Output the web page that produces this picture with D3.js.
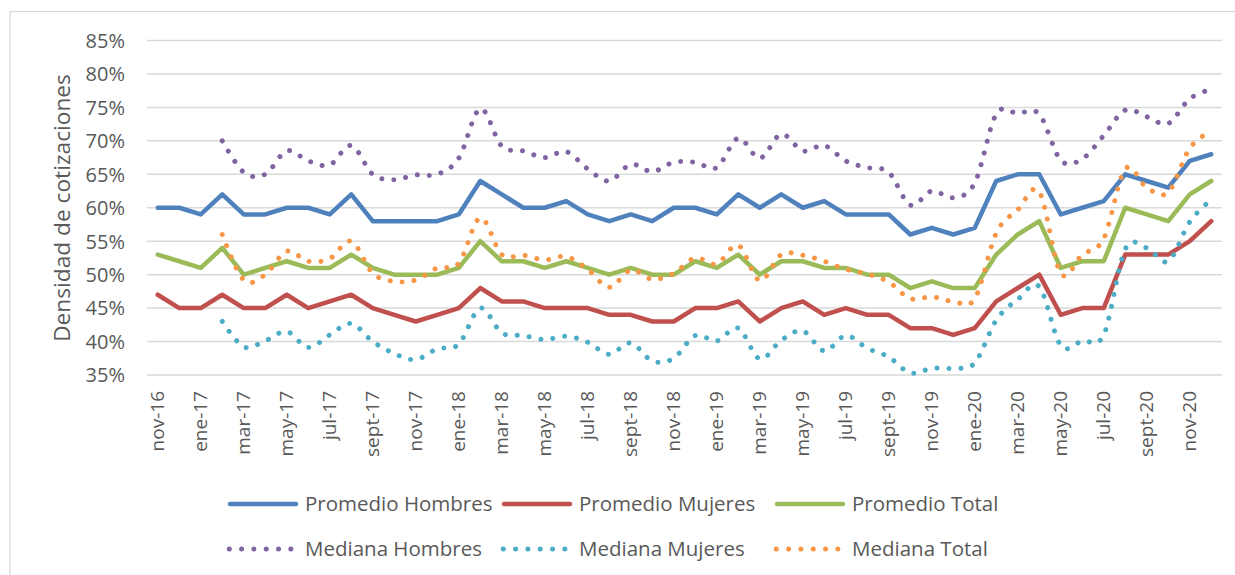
<!DOCTYPE html>
<html>
<head>
<meta charset="utf-8">
<script src="https://cdn.jsdelivr.net/npm/d3@7"></script>
<style>
  html, body { margin: 0; padding: 0; background: #fff; }
  svg { display: block; }
  text { font-family: "Open Sans", sans-serif; fill: #595959; }
</style>
</head>
<body>
<svg id="chart" width="1235" height="575"></svg>
<script>
// ---- Data ----
const months = [
  "nov-16","dic-16",
  "ene-17","feb-17","mar-17","abr-17","may-17","jun-17","jul-17","ago-17","sept-17","oct-17","nov-17","dic-17",
  "ene-18","feb-18","mar-18","abr-18","may-18","jun-18","jul-18","ago-18","sept-18","oct-18","nov-18","dic-18",
  "ene-19","feb-19","mar-19","abr-19","may-19","jun-19","jul-19","ago-19","sept-19","oct-19","nov-19","dic-19",
  "ene-20","feb-20","mar-20","abr-20","may-20","jun-20","jul-20","ago-20","sept-20","oct-20","nov-20","dic-20"
];
const yTicks = [0.35,0.40,0.45,0.50,0.55,0.60,0.65,0.70,0.75,0.80,0.85];

const promedioHombres = [60,60,59,62,59,59,60,60,59,62,58,58,58,58,59,64,62,60,60,61,59,58,59,58,60,60,59,62,60,62,60,61,59,59,59,56,57,56,57,64,65,65,59,60,61,65,64,63,67,68];
const promedioMujeres = [47,45,45,47,45,45,47,45,46,47,45,44,43,44,45,48,46,46,45,45,45,44,44,43,43,45,45,46,43,45,46,44,45,44,44,42,42,41,42,46,48,50,44,45,45,53,53,53,55,58];
const promedioTotal   = [53,52,51,54,50,51,52,51,51,53,51,50,50,50,51,55,52,52,51,52,51,50,51,50,50,52,51,53,50,52,52,51,51,50,50,48,49,48,48,53,56,58,51,52,52,60,59,58,62,64];
const medianaHombres  = [null,null,null,70,65.3,65,68.5,67,66.4,69.3,65,64.2,64.9,65,67.4,74.8,69.2,68.5,67.5,68.4,65.8,64,66.5,65.4,66.8,66.8,66,70.4,67.4,71,68.5,69.3,67,66,65.3,60.4,62.5,61.5,63.7,74,74.1,74,67.1,67.3,70.8,74.6,73.6,72.6,76.3,77.7];
const medianaMujeres  = [null,null,null,43,39.2,40.1,41.5,39.1,41,42.7,40,38.2,37.3,38.9,39.6,45,41.3,40.9,40.3,40.8,39.9,38.1,39.8,37.1,37.5,40.9,40.1,42,37.4,40.2,41.6,38.6,40.9,39,37.7,35.3,36,36,36.8,43.2,46.3,48.2,39.4,40.1,41,53.8,54,52,57.9,61.2];
const medianaTotal    = [null,null,null,56,49.2,50,53.5,52,52.4,55,50.2,49,49.2,51,51.7,58.5,53,52.9,52.2,52.7,50.8,48.1,50.7,49.3,50.2,52.5,51.6,54.4,49.1,53,52.9,52,50.8,50.1,48.9,46.4,46.7,46,46.4,56.2,59.7,62.4,50.2,53,55.4,65.8,63,62.3,68.9,71.5];

const seriesNames = ["Promedio Hombres","Promedio Mujeres","Promedio Total","Mediana Hombres","Mediana Mujeres","Mediana Total"];
const seriesValues = [promedioHombres, promedioMujeres, promedioTotal, medianaHombres, medianaMujeres, medianaTotal];
const seriesColors = ["#4F81BD","#C0504D","#9BBB59","#8064A2","#4BACC6","#F79646"];
const seriesDotted = [false,false,false,true,true,true];

// ---- Layout ----
const svg = d3.select("#chart");

// outer frame (only top & left visible)
svg.append("rect")
  .attr("x", 10).attr("y", 11.5)
  .attr("width", 1300).attr("height", 700)
  .attr("fill", "none").attr("stroke", "#d9d9d9").attr("stroke-width", 1.3);

const x = d3.scaleBand().domain(months).range([147, 1222]);
const xc = d => x(d) + x.bandwidth() / 2;
const y = d3.scaleLinear().domain([0.35, 0.85]).range([375, 40.5]);

// gridlines
svg.append("g")
  .selectAll("line").data(yTicks).join("line")
  .attr("x1", 147).attr("x2", 1222)
  .attr("y1", d => y(d)).attr("y2", d => y(d))
  .attr("stroke", "#d9d9d9").attr("stroke-width", 1.5);

// y axis labels
const yAxis = d3.axisLeft(y).tickValues(yTicks).tickFormat(d3.format(".0%")).tickSize(0).tickPadding(0);
const gy = svg.append("g").attr("transform", "translate(125,0)").call(yAxis);
gy.select(".domain").remove();
gy.selectAll("text").style("font-size", "20px").attr("fill", "#595959").attr("dy", "0.34em")
  .style("font-family", "'Open Sans', sans-serif");

// x axis labels
const xAxis = d3.axisBottom(x).tickValues(months.filter((m, i) => i % 2 === 0)).tickSize(0).tickPadding(0);
const gx = svg.append("g").attr("transform", "translate(0,375)").call(xAxis);
gx.select(".domain").remove();
gx.selectAll("text")
  .style("font-size", "19px").attr("fill", "#595959")
  .style("font-family", "'Open Sans', sans-serif")
  .attr("text-anchor", "end")
  .attr("transform", "translate(0,16) rotate(-90)")
  .attr("x", 0).attr("y", 0).attr("dy", "0.35em");

// axis title
svg.append("text")
  .attr("transform", "translate(62,208) rotate(-90)")
  .attr("text-anchor", "middle")
  .attr("dy", "0.35em")
  .style("font-size", "22.7px")
  .text("Densidad de cotizaciones");

// lines
const linear = d3.line()
  .defined(d => d.v != null)
  .x(d => xc(d.m)).y(d => y(d.v / 100));
const smooth = d3.line()
  .defined(d => d.v != null)
  .curve(d3.curveCardinal.tension(0))
  .x(d => xc(d.m)).y(d => y(d.v / 100));

const gLines = svg.append("g");
seriesValues.forEach((vals, k) => {
  const data = vals.map((v, i) => ({ m: months[i], v }));
  const p = gLines.append("path")
    .attr("d", seriesDotted[k] ? smooth(data) : linear(data))
    .attr("fill", "none")
    .attr("stroke", seriesColors[k]);
  if (seriesDotted[k]) {
    p.attr("stroke-width", 5).attr("stroke-linecap", "round").attr("stroke-dasharray", "0.01 12");
  } else {
    p.attr("stroke-width", 4.5).attr("stroke-linejoin", "round").attr("stroke-linecap", "round");
  }
});

// legend
const legX = [228, 502, 775];
const legY = [504, 549];
const leg = svg.append("g");
seriesNames.forEach((name, k) => {
  const col = k % 3, row = Math.floor(k / 3);
  const lx = legX[col], ly = legY[row];
  if (seriesDotted[k]) {
    leg.append("line")
      .attr("x1", lx + 1.3).attr("x2", lx + 64)
      .attr("y1", ly).attr("y2", ly)
      .attr("stroke", seriesColors[k]).attr("stroke-width", 5)
      .attr("stroke-linecap", "round").attr("stroke-dasharray", "0.01 12.3");
  } else {
    leg.append("line")
      .attr("x1", lx + 2).attr("x2", lx + 68)
      .attr("y1", ly).attr("y2", ly)
      .attr("stroke", seriesColors[k]).attr("stroke-width", 4.5)
      .attr("stroke-linecap", "round");
  }
  leg.append("text")
    .attr("x", lx + 77).attr("y", ly)
    .attr("dy", "0.35em")
    .style("font-size", "20.5px")
    .text(name);
});
</script>
</body>
</html>
